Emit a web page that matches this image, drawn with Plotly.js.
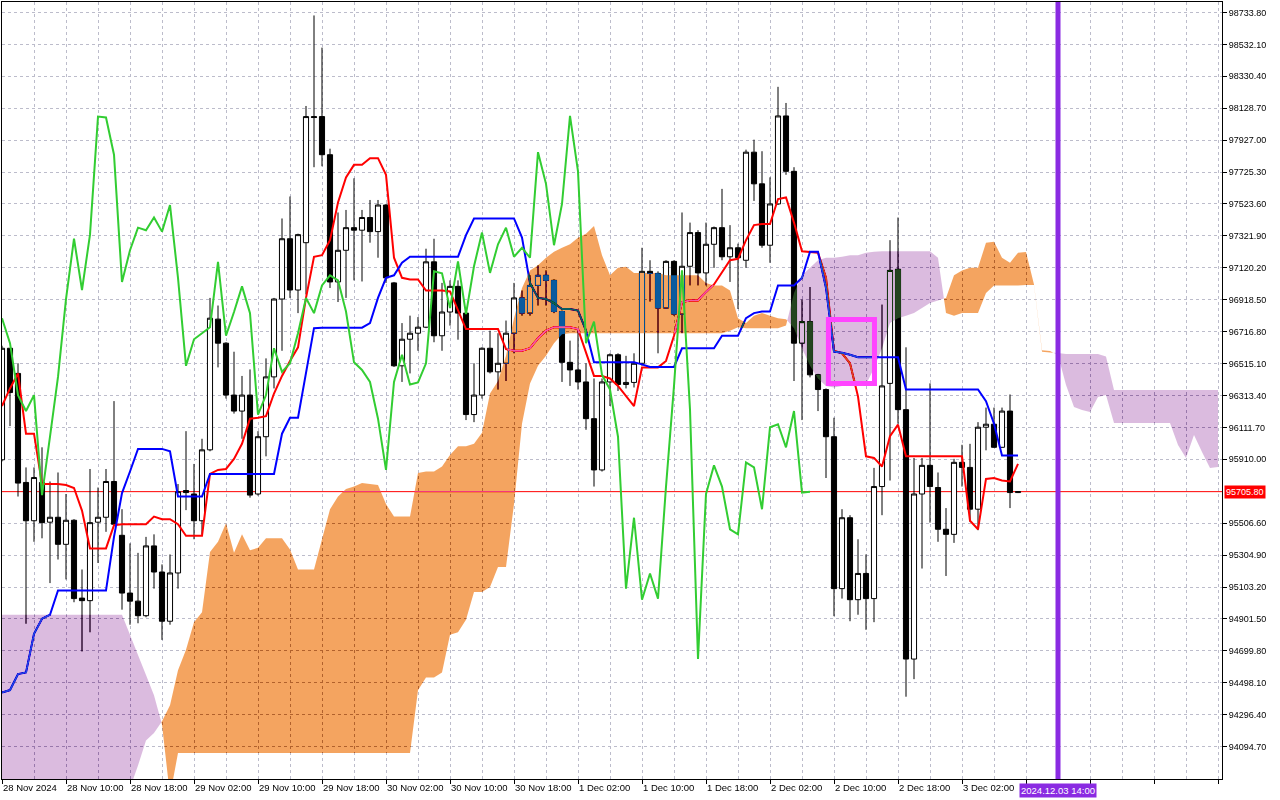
<!DOCTYPE html>
<html><head><meta charset="utf-8">
<script src="https://cdn.plot.ly/plotly-3.0.1.min.js"></script>
<style>html,body{margin:0;padding:0;background:#fff;}#chart{width:1280px;height:800px;}</style>
</head><body><div id="chart"></div>
<script>
// ---- Time axis labels (one every 8 hourly candles, starting 28 Nov 02:00) ----
const xTickLabels = ['28 Nov 2024','28 Nov 10:00','28 Nov 18:00','29 Nov 02:00','29 Nov 10:00','29 Nov 18:00',
  '30 Nov 02:00','30 Nov 10:00','30 Nov 18:00','1 Dec 02:00','1 Dec 10:00','1 Dec 18:00','2 Dec 02:00',
  '2 Dec 10:00','2 Dec 18:00','3 Dec 02:00'];
// ---- Price axis labels ----
const yTickLabels = ['98733.80','98532.10','98330.40','98128.70','97927.00','97725.30','97523.60','97321.90',
  '97120.20','96918.50','96716.80','96515.10','96313.40','96111.70','95910.00','95708.30','95506.60',
  '95304.90','95103.20','94901.50','94699.80','94498.10','94296.40','94094.70'];
const lastPrice = 95705.80;
const markerLabel = '2024.12.03 14:00';
const markerIndex = 132;

// ---- H1 candles ----
const openP = [95907,96612,96453,95764,95522,95764,95513,95544,95373,95525,
 95033,95017,95513,95544,95770,95430,95065,95014,94922,95363,
 95198,94887,95192,95713,95691,95522,95970,96796,96644,96316,
 96215,96316,95691,96053,96431,96923,97304,96980,97279,98076,
 98076,97835,97031,97231,97374,97358,97438,97349,97517,97025,
 96501,96669,96707,96745,97158,96691,96841,97003,96834,96193,
 96316,96612,96463,96517,96707,96930,96834,97009,97073,97041,
 96844,96523,96475,96399,96167,95843,96399,96571,96383,96396,
 96517,97098,97085,96866,97161,96828,97130,97343,97088,97269,
 97374,97190,97247,97168,97851,97651,97263,97524,98080,97730,
 96644,96780,96444,96351,96053,95093,95541,95023,95189,95030,
 95738,96390,97111,96224,94648,95691,95872,95732,95468,95436,
 95891,95859,95595,96113,96132,95986,96215,95700];
const highP = [96628,96612,96517,95859,95859,95986,95770,95827,95691,95532,
 95214,95849,95732,95849,96278,95595,95379,95319,95420,95436,
 95246,95309,95754,96088,95881,96040,96930,96882,96650,96590,
 96437,96478,96088,96548,96930,97432,97571,97336,98143,98715,
 98512,97873,97470,97486,97686,97486,97549,97549,97524,97031,
 96771,96818,96809,97241,97304,97025,97041,97041,96841,96517,
 96618,96723,96707,96787,97025,96977,97073,97136,97104,97047,
 96850,96660,96739,96517,96421,96421,96580,96580,96564,96580,
 97247,97168,97098,97168,97168,97470,97406,97358,97406,97381,
 97619,97390,97273,97867,97930,97857,97692,98264,98162,97756,
 96920,96999,96450,96358,96173,95595,95557,95405,95309,95856,
 96888,97295,97438,96618,95919,95919,96390,95827,95602,95913,
 96002,96008,96145,96237,96237,96237,96320,95706];
const lowP = [95897,96120,95675,94871,95389,95411,95128,95277,95151,95007,
 94696,94817,95255,95452,95494,94960,94865,94874,94912,95093,
 94769,94865,95093,95589,95405,95436,95961,96491,96294,96199,
 96040,95668,95681,95929,96358,96596,96930,96834,96952,97756,
 97762,96993,96904,96930,97041,97034,97279,97184,97025,96494,
 96399,96453,96596,96739,96650,96596,96755,96666,96158,96145,
 96294,96453,96351,96405,96580,96818,96818,96882,96882,96834,
 96399,96374,96351,96097,95738,95833,96247,96342,96358,96364,
 96501,96907,96580,96860,96818,96707,97009,97009,97009,97120,
 97168,97031,96860,97120,97543,97247,97152,97517,97708,96405,
 96158,96428,96215,95792,94919,95030,94887,94928,94833,94881,
 95557,95776,96135,94410,94521,95220,95510,95389,95173,95382,
 95738,95516,95462,95967,95983,95983,95602,95697];
const closeP = [96612,96332,95760,95522,95795,95510,95544,95373,95525,95030,
 95017,95510,95544,95770,95500,95065,95014,94922,95363,95198,
 94887,95192,95706,95700,95522,95970,96802,96644,96316,96215,
 96316,95684,96053,96431,96923,97304,96980,97330,98076,98070,
 97835,97031,97231,97374,97358,97438,97349,97517,97057,96501,
 96669,96707,96745,97158,96691,96841,97003,96834,96193,96316,
 96612,96463,96517,96707,96930,96834,97009,97073,97041,96844,
 96523,96475,96399,96167,95843,96399,96571,96383,96396,96517,
 97098,97085,96866,97161,96828,97130,97343,97088,97269,97374,
 97190,97247,97184,97851,97651,97263,97524,98080,97730,96644,
 96780,96444,96351,96053,95093,95541,95023,95189,95030,95738,
 96374,97104,96224,94648,95691,95872,95738,95468,95436,95891,
 95859,95595,96113,96132,95986,96215,95700,95705.8];

// ---- Ichimoku lines ----
const tenkan = [96247,96358,96453,96072,96072,95754,95754,95754,95748,95729,
 95586,95347,95347,95347,95494,95500,95500,95500,95500,95548,
 95532,95532,95500,95427,95427,95427,95818,95843,95849,95913,
 96008,96167,96173,96183,96326,96437,96532,96618,96930,97190,
 97200,97295,97533,97692,97771,97771,97813,97813,97708,97184,
 97057,97047,97047,96977,96977,96977,96971,96850,96733,96733,
 96733,96733,96733,96606,96596,96596,96612,96675,96723,96745,
 96745,96745,96733,96580,96437,96437,96421,96374,96310,96247,
 96491,96491,96491,96532,96691,96904,96914,96914,96968,97015,
 97088,97168,97177,97295,97390,97397,97397,97555,97565,97406,
 97225,97222,97216,97057,96596,96580,96517,96307,95929,95919,
 95865,96056,96129,95929,95929,95929,95929,95929,95929,95929,
 95929,95522,95468,95786,95792,95776,95770,95881];
const kijun = [94436,94452,94553,94563,94807,94903,94928,95081,95081,95081,
 95081,95081,95081,95081,95420,95697,95833,95976,95976,95976,
 95976,95961,95675,95675,95675,95675,95818,95818,95818,95818,
 95818,95818,95818,95818,95818,96072,96173,96173,96453,96739,
 96742,96742,96742,96742,96742,96742,96771,96930,97057,97073,
 97152,97190,97190,97190,97190,97190,97190,97190,97327,97432,
 97432,97432,97432,97432,97432,97311,97025,96930,96923,96898,
 96860,96860,96850,96723,96523,96523,96523,96523,96523,96523,
 96510,96494,96494,96494,96494,96612,96612,96612,96612,96612,
 96691,96691,96691,96802,96834,96844,96844,97009,97009,97009,
 97057,97222,97222,96993,96590,96583,96571,96555,96555,96555,
 96555,96555,96555,96351,96351,96351,96351,96351,96351,96351,
 96351,96351,96351,96278,96135,95935,95935,95935];
// Senkou spans (already shifted 26 bars ahead: 153 points)
const spanA = [93594,93594,93594,93594,93594,93594,93594,93594,93594,93594,
 93594,93594,93594,93594,93594,93721,93832,93975,94134,94181,
 94255,94356,94578,94706,94880,94944,95325,95389,95506,95319,
 95436,95335,95351,95411,95411,95411,95341,95214,95214,95214,
 95405,95595,95675,95722,95738,95760,95754,95748,95627,95548,
 95548,95548,95824,95833,95833,95865,95938,95992,95992,96008,
 96078,96326,96405,96564,96802,96993,97104,97136,97184,97222,
 97247,97269,97311,97336,97384,97200,97073,97120,97127,97088,
 97088,97088,97088,97073,97073,97073,97073,97073,97025,97009,
 97009,96977,96802,96771,96818,96834,96818,96802,96796,96739,
 96612,96501,96421,96374,96364,96374,96374,96374,96383,96485,
 96612,96771,96802,96818,96834,96866,96898,96914,96930,97073,
 97104,97120,97120,97279,97285,97184,97152,97216,97220,97015,
 96600,96594,96569,96380,96241,96222,96209,96304,96317,96140,
 96140,96140,96140,96140,96140,96140,96140,96001,95919,96064,
 95956,95855,95862];
const spanB = [94928,94928,94928,94928,94928,94928,94928,94928,94928,94928,
 94928,94928,94928,94928,94928,94928,94801,94674,94547,94420,
 94235,93784,94054,94054,94054,94054,94054,94054,94054,94054,
 94054,94054,94054,94054,94054,94054,94054,94054,94054,94054,
 94054,94054,94054,94054,94054,94054,94054,94054,94054,94054,
 94054,94054,94451,94531,94531,94563,94801,94817,94896,95071,
 95071,95103,95230,95230,95627,96135,96390,96501,96564,96644,
 96701,96707,96707,96707,96707,96707,96707,96707,96707,96707,
 96707,96707,96707,96707,96707,96707,96707,96707,96707,96707,
 96707,96723,96745,96739,96739,96739,96739,96739,96755,96961,
 97073,97120,97168,97184,97184,97190,97200,97200,97216,97222,
 97225,97225,97225,97225,97225,97225,97225,97184,96834,96818,
 96834,96834,96834,96961,97009,97009,97009,97009,97012,97012,
 96590,96585,96582,96576,96576,96576,96576,96576,96560,96348,
 96348,96348,96348,96348,96348,96348,96348,96348,96348,96348,
 96348,96348,96348];
const chikouShift = 26;

// ---- build ----
const idx = closeP.map((_, i) => i);

function cloudPolygons(a, b) {
  const px = [], pa = [], pb = [];
  for (let i = 0; i < a.length; i++) {
    px.push(i); pa.push(a[i]); pb.push(b[i]);
    if (i < a.length - 1) {
      const d0 = a[i] - b[i], d1 = a[i + 1] - b[i + 1];
      if (d0 * d1 < 0) {
        const t = d0 / (d0 - d1);
        const v = a[i] + t * (a[i + 1] - a[i]);
        px.push(i + t); pa.push(v); pb.push(v);
      }
    }
  }
  const up = pa.map((v, k) => Math.max(v, pb[k]));
  return {
    x: px.concat(px.slice().reverse()),
    bull: up.concat(pb.slice().reverse()),
    bear: up.concat(pa.slice().reverse())
  };
}
const cloud = cloudPolygons(spanA, spanB);

const traces = [
  {type: 'candlestick', x: idx, open: openP, high: highP, low: lowP, close: closeP,
   increasing: {line: {color: '#000000', width: 1}, fillcolor: '#ffffff'},
   decreasing: {line: {color: '#000000', width: 1}, fillcolor: '#000000'},
   whiskerwidth: 0, hoverinfo: 'skip'},
  {type: 'scatter', mode: 'lines', x: idx, y: tenkan, line: {color: '#ff0000', width: 2}, hoverinfo: 'skip'},
  {type: 'scatter', mode: 'lines', x: idx, y: kijun, line: {color: '#0000ff', width: 2}, hoverinfo: 'skip'},
  // cloud fills: complementary colours, composited with "difference" (like MT's XOR fill)
  {type: 'scatter', mode: 'none', x: cloud.x, y: cloud.bull, fill: 'toself', fillcolor: '#0b5b9f', hoverinfo: 'skip'},
  {type: 'scatter', mode: 'none', x: cloud.x, y: cloud.bear, fill: 'toself', fillcolor: '#244420', hoverinfo: 'skip'},
  {type: 'scatter', mode: 'lines', x: idx.slice(0, closeP.length - chikouShift), y: closeP.slice(chikouShift),
   line: {color: '#32cd32', width: 2}, hoverinfo: 'skip'}
];

const xTickVals = [], xTickText = [];
for (let k = 0; k * 8 <= 152; k++) { xTickVals.push(k * 8); xTickText.push(xTickLabels[k] || ''); }
const xMinor = [];
for (let k = 4; k <= 152; k += 8) xMinor.push(k);

// price labels; the one hidden behind the last-price tag is left out
const yShown = yTickLabels.filter(t => Math.abs(parseFloat(t) - lastPrice) > 20);
const yTickVals = yShown.map(parseFloat);

const font = {family: 'Liberation Sans, Arial, sans-serif', size: 9, color: '#000000'};
const xFont = {family: font.family, size: 9.5, color: '#000000'};
const gridColor = '#bcbccb';

const layout = {
  width: 1280, height: 800,
  margin: {l: 2, r: 58, t: 2, b: 21, pad: 0},
  paper_bgcolor: '#ffffff', plot_bgcolor: '#ffffff',
  showlegend: false, hovermode: false, font: font,
  boxgap: 0.2, boxgroupgap: 0.2,
  xaxis: {
    type: 'linear', range: [0, 152.5], fixedrange: true,
    rangeslider: {visible: false},
    tickvals: xTickVals, ticktext: xTickText, ticks: 'outside', ticklen: 4, tickcolor: '#000',
    ticklabelposition: 'outside right', tickfont: xFont, tickangle: 0,
    showgrid: true, gridcolor: gridColor, griddash: '3px,3px', gridwidth: 1,
    minor: {tickvals: xMinor, showgrid: true, gridcolor: gridColor, griddash: '3px,3px', gridwidth: 1, ticks: ''},
    zeroline: false, showline: true, linecolor: '#000', linewidth: 1, mirror: true
  },
  yaxis: {
    side: 'right', range: [93890, 98800], fixedrange: true,
    tickvals: yTickVals, ticktext: yShown, ticks: 'outside', ticklen: 4, tickcolor: '#000', tickfont: font,
    showgrid: true, gridcolor: gridColor, griddash: '3px,3px', gridwidth: 1,
    zeroline: false, showline: true, linecolor: '#000', linewidth: 1, mirror: true
  },
  shapes: [
    {type: 'line', xref: 'paper', x0: 0, x1: 1, yref: 'y', y0: lastPrice, y1: lastPrice,
     line: {color: '#ff0000', width: 1}, layer: 'between'},
    {type: 'rect', xref: 'x', yref: 'y', x0: 103.3, x1: 109.06, y0: 96390, y1: 96793,
     line: {color: '#ff44ff', width: 5}, fillcolor: 'rgba(0,0,0,0)', layer: 'above'},
    {type: 'line', xref: 'x', x0: markerIndex, x1: markerIndex, yref: 'paper', y0: 0, y1: 1,
     line: {color: '#8a2be2', width: 5}, layer: 'above'}
  ],
  annotations: [
    {xref: 'paper', x: 1, xanchor: 'left', xshift: 2, yref: 'y', y: lastPrice, yanchor: 'middle',
     text: lastPrice.toFixed(2), showarrow: false, bgcolor: '#ff0000', borderpad: 1,
     font: {family: font.family, size: 9, color: '#ffffff'}},
    {xref: 'x', x: markerIndex, xanchor: 'center', yref: 'paper', y: 0, yanchor: 'top', yshift: -4,
     text: markerLabel, showarrow: false, bgcolor: '#8a2be2', borderpad: 1,
     font: {family: font.family, size: 9.5, color: '#ffffff'}}
  ]
};

function getClip(el) {
  return (el.getAttribute && el.getAttribute('clip-path')) || (el.style && el.style.clipPath) || '';
}

Plotly.newPlot('chart', traces, layout, {displayModeBar: false, staticPlot: true}).then(gd => {
  const groups = gd.querySelectorAll('.scatterlayer .trace');
  const blend = [groups[2], groups[3]].filter(Boolean);
  if (!blend.length) return;
  // move clipping from isolating ancestors down to the individual trace groups,
  // so the "difference" blend sees the white background, grid and candles below it
  let node = blend[0].parentNode;
  while (node && node.nodeName && node.nodeName.toLowerCase() !== 'svg') {
    const cp = getClip(node);
    if (cp) {
      node.removeAttribute('clip-path');
      if (node.style) node.style.clipPath = '';
      node.querySelectorAll('g.trace').forEach(t => { if (!getClip(t)) t.setAttribute('clip-path', cp); });
    }
    node = node.parentNode;
  }
  blend.forEach(g => { g.style.mixBlendMode = 'difference'; });
});
</script>
</body></html>
